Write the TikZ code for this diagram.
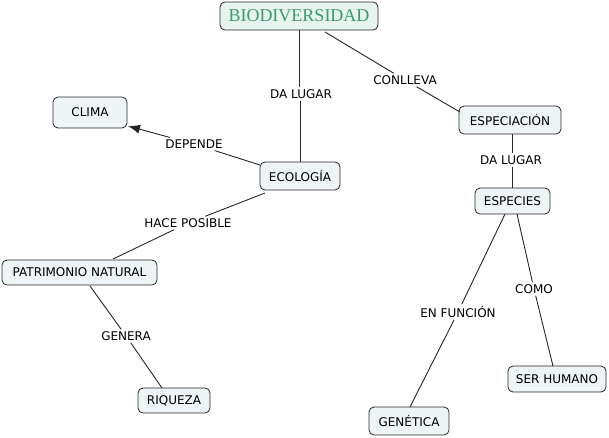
\documentclass[tikz,border=0pt]{standalone}
\usetikzlibrary{arrows.meta}
\usepackage{fontspec}
\setmainfont{DejaVu Sans}
\newfontfamily\titlefont{Liberation Serif}
\definecolor{boxfill}{HTML}{EEF4F6}
\definecolor{titlefill}{HTML}{E6F3EE}
\definecolor{titlegreen}{HTML}{3A9A6C}
\begin{document}
\begin{tikzpicture}[x=1pt,y=-1pt,
  concept/.style={draw=black!85, fill=boxfill, rounded corners=5pt, line width=0.8pt,
    inner sep=0pt, font=\fontsize{12}{14}\selectfont},
  linklabel/.style={fill=white, inner sep=2pt, font=\fontsize{12}{14}\selectfont},
  conn/.style={line width=0.9pt, black!85}]
\useasboundingbox (0,0) rectangle (609,437);
% concepts
\node[concept, fill=titlefill, minimum width=158pt, minimum height=28pt,
  font=\titlefont\fontsize{18}{20}\selectfont, text=titlegreen] (bio) at (299,16) {BIODIVERSIDAD};
\node[concept, minimum width=74pt, minimum height=31pt] (clima) at (90,112.5) {CLIMA};
\node[concept, minimum width=80pt, minimum height=28pt] (eco) at (300,176) {ECOLOGÍA};
\node[concept, minimum width=102pt, minimum height=28pt] (espn) at (510,120) {ESPECIACIÓN};
\node[concept, minimum width=75pt, minimum height=26pt] (esp) at (512.5,201) {ESPECIES};
\node[concept, minimum width=155pt, minimum height=25pt] (pat) at (79.5,272.5) {PATRIMONIO NATURAL};
\node[concept, minimum width=72pt, minimum height=25pt] (riq) at (174,400.5) {RIQUEZA};
\node[concept, minimum width=80pt, minimum height=28pt] (gen) at (409,421) {GENÉTICA};
\node[concept, minimum width=98pt, minimum height=26pt] (ser) at (557,379) {SER HUMANO};
% link labels
\node[linklabel] (l1) at (301,94) {DA LUGAR};
\node[linklabel] (l2) at (405,80) {CONLLEVA};
\node[linklabel] (l3) at (194,144) {DEPENDE};
\node[linklabel] (l4) at (188,223) {HACE POSIBLE};
\node[linklabel] (l5) at (126,336) {GENERA};
\node[linklabel] (l6) at (511,160) {DA LUGAR};
\node[linklabel] (l7) at (458,312) {EN FUNCIÓN};
\node[linklabel] (l8) at (534,289) {COMO};
% connectors
\coordinate (b1) at (299,30);
\coordinate (e1) at (300,162);
\draw[conn] (b1) -- (l1.north -| b1);
\draw[conn] (l1.south -| e1) -- (e1);
\coordinate (b2) at (325,32);
\coordinate (s2) at (460,112);
\draw[conn] (b2) -- (l2);
\draw[conn] (l2) -- (s2);
\coordinate (e3) at (260,165);
\coordinate (c3) at (128,126);
\draw[conn] (e3) -- (l3);
\draw[conn, -{Latex[length=12pt,width=9pt]}] (l3) -- (c3);
\coordinate (e4) at (265,193);
\coordinate (p4) at (113,259);
\draw[conn] (e4) -- (l4);
\draw[conn] (l4) -- (p4);
\coordinate (p5) at (90,286);
\coordinate (r5) at (162,388);
\draw[conn] (p5) -- (l5);
\draw[conn] (l5) -- (r5);
\coordinate (s6) at (512,134);
\coordinate (t6) at (512,188);
\draw[conn] (s6) -- (l6.north -| s6);
\draw[conn] (l6.south -| t6) -- (t6);
\coordinate (t7) at (505,214);
\coordinate (g7) at (410,407);
\draw[conn] (t7) -- (l7);
\draw[conn] (l7) -- (g7);
\coordinate (t8) at (517,214);
\coordinate (h8) at (553,366);
\draw[conn] (t8) -- (l8);
\draw[conn] (l8) -- (h8);
\end{tikzpicture}
\end{document}
